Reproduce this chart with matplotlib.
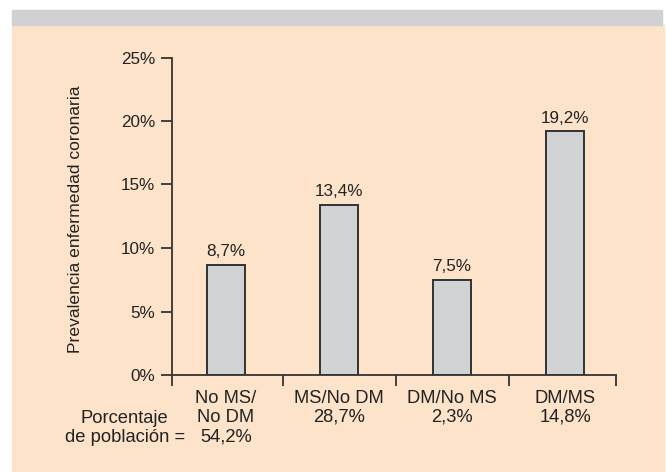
import matplotlib.pyplot as plt
from matplotlib.patches import Rectangle

# prevalencia de enfermedad coronaria por grupo
grupos = ["No MS/\nNo DM", "MS/No DM", "DM/No MS", "DM/MS"]
poblacion = ["54,2%", "28,7%", "2,3%", "14,8%"]
prevalencia = [8.7, 13.4, 7.5, 19.2]
yticks = [0, 5, 10, 15, 20, 25]

plt.rcParams['font.family'] = ['Liberation Sans', 'DejaVu Sans']
texto = '#222222'
fs = 12.3
fs_cat = 13.2

W, H = 666, 472
fig = plt.figure(figsize=(W / 100, H / 100), dpi=100, facecolor='white')

# fondo: banda gris arriba y panel crema (por debajo de los ejes)
fig.patches.append(Rectangle((12 / W, 0), (664 - 12) / W, (H - 25) / H,
                             transform=fig.transFigure, color='#fde3c9', zorder=-2))
fig.patches.append(Rectangle((12 / W, (H - 25) / H), (662 - 12) / W, 15 / H,
                             transform=fig.transFigure, color='#d0d1d3', zorder=-2))

ax = fig.add_axes([172 / W, 97 / H, 444 / W, 317.5 / H])
ax.patch.set_visible(False)

x = list(range(len(grupos)))
ax.bar(x, prevalencia, width=0.34, color='#d1d2d4', edgecolor='#333333', linewidth=1.4)

for xi, v in zip(x, prevalencia):
    ax.annotate(f"{v:.1f}%".replace('.', ','), (xi, v), xytext=(0, 4),
                textcoords='offset points', ha='center', va='bottom',
                fontsize=fs, color=texto)

xl, xr = -0.478, 3.451
ax.set_xlim(xl, xr)
ax.set_ylim(0, 25)
ax.set_yticks(yticks)
ax.set_yticklabels([f"{t}%" for t in yticks])
ax.set_xticks([xl, 0.5, 1.5, 2.5, xr])
ax.set_xticklabels([])

for s in ['top', 'right']:
    ax.spines[s].set_visible(False)
for s in ['left', 'bottom']:
    ax.spines[s].set_color('#333333')
    ax.spines[s].set_linewidth(1.3)
ax.tick_params(axis='both', direction='out', length=8, width=1.3, color='#333333',
               labelsize=fs, labelcolor=texto, pad=4)

ax.set_ylabel("Prevalencia enfermedad coronaria", fontsize=12.6, color=texto)
ax.yaxis.set_label_coords(-0.2005, 0.49)

# etiquetas de grupo con su porcentaje de población
for xi, g, p in zip(x, grupos, poblacion):
    ax.annotate(g + "\n" + p, (xi, 0), xycoords=('data', 'axes fraction'),
                xytext=(0, -10.5), textcoords='offset points', ha='center', va='top',
                fontsize=fs_cat, color=texto, linespacing=1.17)

ax.annotate("Porcentaje\nde población =", (xl, 0), xycoords=('data', 'axes fraction'),
            xytext=(-34, -24.9), textcoords='offset points', ha='center', va='top',
            fontsize=fs_cat, color=texto, linespacing=1.17)

fig.savefig('out.png', dpi=100, facecolor=fig.get_facecolor())
